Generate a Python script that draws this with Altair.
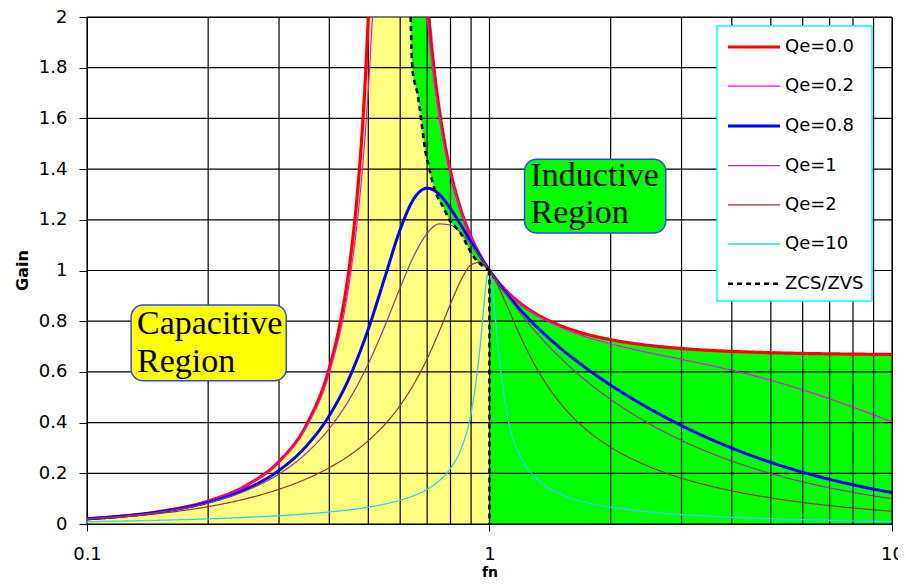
import altair as alt
import pandas as pd

# ---------------- values ----------------
FN_GRID = [0.1, 0.12, 0.15, 0.2, 0.25, 0.3, 0.35, 0.4, 0.45, 0.5,
           0.55, 0.6, 0.65, 0.7, 0.75, 0.8, 0.85, 0.9, 0.95, 0.98,
           1.0, 1.02, 1.05, 1.1, 1.2, 1.3, 1.5, 1.7, 2.0, 2.5,
           3.0, 4.0, 5.0, 6.0, 7.0, 8.0, 9.0, 10.0]

# Qe = 0.0 (two branches, it leaves the chart around the resonance pole)
Q0_LEFT_FN = [0.1, 0.12, 0.15, 0.2, 0.25, 0.3, 0.35, 0.4, 0.42, 0.45, 0.46, 0.47, 0.48, 0.49, 0.5]
Q0_LEFT_G = [0.0206, 0.0301, 0.0483, 0.0909, 0.1538, 0.2466, 0.3874, 0.6154, 0.7494, 1.0318,
             1.1588, 1.3098, 1.4922, 1.7168, 2.0]
Q0_RIGHT_FN = [0.707, 0.72, 0.73, 0.75, 0.76, 0.8, 0.85, 0.9, 0.95, 1.0,
               1.05, 1.1, 1.2, 1.3, 1.5, 1.7, 2.0, 2.5, 3.0,
               4.0, 5.0, 6.0, 7.0, 8.0, 9.0, 10.0]
Q0_RIGHT_G = [2.0, 1.8674, 1.7802, 1.6364, 1.5764, 1.3913, 1.2377, 1.1329, 1.0571, 1.0,
              0.9556, 0.9202, 0.8675, 0.8305, 0.7826, 0.7536, 0.7273, 0.7042, 0.6923,
              0.6809, 0.6757, 0.6729, 0.6712, 0.6702, 0.6694, 0.6689]

# Qe = 0.2
Q02_LEFT_FN = [0.1, 0.12, 0.15, 0.2, 0.25, 0.3, 0.35, 0.4, 0.45, 0.47, 0.48, 0.49, 0.5, 0.512]
Q02_LEFT_G = [0.0206, 0.0301, 0.0482, 0.0906, 0.1528, 0.2439, 0.3802, 0.5958, 0.9691, 1.2014,
              1.3461, 1.5154, 1.715, 2.0]
Q02_RIGHT_FN = [0.699, 0.72, 0.75, 0.8, 0.85, 0.9, 0.95, 1.0, 1.05, 1.1, 1.2, 1.3, 1.5, 1.7,
                2.0, 2.5, 3.0, 4.0, 5.0, 6.0, 7.0, 8.0, 9.0, 10.0]
Q02_RIGHT_G = [2.0, 1.8118, 1.6073, 1.3805, 1.2337, 1.1316, 1.0568, 1.0, 0.9554, 0.9196, 0.8657,
               0.8273, 0.7760, 0.7432, 0.7106, 0.6753, 0.6495, 0.6064, 0.5669, 0.5293, 0.4938,
               0.4609, 0.4307, 0.4031]

# Qe = 0.8, 1, 2 on FN_GRID
Q08_G = [0.0203, 0.0295, 0.0468, 0.0858, 0.1397, 0.2116, 0.3059, 0.4278, 0.5823, 0.7692,
         0.9747, 1.1621, 1.2852, 1.3248, 1.3005, 1.2440, 1.1777, 1.1127, 1.0531, 1.0205,
         1.0, 0.9805, 0.9529, 0.9112, 0.8407, 0.7832, 0.6938, 0.6260, 0.5479, 0.4546,
         0.3882, 0.2994, 0.2430, 0.2042, 0.1759, 0.1545, 0.1376, 0.1241]
Q1_G = [0.0202, 0.0292, 0.0460, 0.0833, 0.1333, 0.1975, 0.2779, 0.3766, 0.4951, 0.6325,
        0.7829, 0.9325, 1.0603, 1.1465, 1.1837, 1.1792, 1.1475, 1.1018, 1.0509, 1.0202,
        1.0, 0.9802, 0.9514, 0.9063, 0.8267, 0.7599, 0.6555, 0.5776, 0.4914, 0.3945,
        0.3297, 0.2483, 0.1991, 0.1661, 0.1425, 0.1248, 0.1109, 0.0999]
Q2_G = [0.0191, 0.0270, 0.0408, 0.0685, 0.1008, 0.1370, 0.1773, 0.2221, 0.2721, 0.3288,
        0.3936, 0.4681, 0.5540, 0.6519, 0.7593, 0.8682, 0.9626, 1.0220, 1.0331, 1.0176,
        1.0, 0.9780, 0.9394, 0.8681, 0.7319, 0.6230, 0.4762, 0.3862, 0.3030, 0.2256,
        0.1810, 0.1308, 0.1030, 0.0850, 0.0725, 0.0632, 0.0561, 0.0504]

# Qe = 10 (sharp around fn = 1)
Q10_FN = [0.1, 0.12, 0.15, 0.2, 0.25, 0.3, 0.35, 0.4, 0.45, 0.5,
          0.55, 0.6, 0.65, 0.7, 0.75, 0.8, 0.85, 0.9, 0.95, 0.97,
          0.98, 0.99, 1.0, 1.01, 1.02, 1.03, 1.05, 1.1, 1.2, 1.3,
          1.5, 1.7, 2.0, 2.5, 3.0, 4.0, 5.0, 6.0, 7.0, 8.0, 9.0, 10.0]
Q10_G = [0.0091, 0.0113, 0.0146, 0.0203, 0.0263, 0.0327, 0.0397, 0.0475, 0.0563, 0.0666,
         0.0788, 0.0937, 0.1125, 0.1370, 0.1705, 0.2194, 0.2973, 0.4370, 0.7164, 0.8739,
         0.9439, 0.9901, 1.0, 0.9715, 0.9144, 0.8428, 0.6988, 0.4552, 0.2602, 0.1837,
         0.1186, 0.0893, 0.0664, 0.0475, 0.0374, 0.0266, 0.0208, 0.0171, 0.0146, 0.0127,
         0.0112, 0.0101]

# ZCS / ZVS boundary (dotted), then the vertical drop at fn = 1
ZVS_FN = [0.637, 0.643, 0.650, 0.662, 0.671, 0.680, 0.697, 0.707, 0.713, 0.734, 0.767, 0.795,
          0.848, 0.907, 1.0, 1.0]
ZVS_G = [2.0, 1.8, 1.75, 1.70, 1.64, 1.567, 1.448, 1.41, 1.384, 1.31, 1.251, 1.2,
         1.147, 1.061, 1.0, 0.0]
# top of the green (inductive) band above the boundary
GREEN_TOP = [2.0, 2.0, 2.0, 2.0, 2.0, 2.0, 2.0, 2.0, 1.936, 1.749, 1.538, 1.411, 1.243, 1.121, 1.0]

SERIES = ["Qe=0.0", "Qe=0.2", "Qe=0.8", "Qe=1", "Qe=2", "Qe=10", "ZCS/ZVS"]
COLORS = ["#FF0000", "#FF00FF", "#0000FF", "#993399", "#993333", "#33CCFF", "#000000"]
WIDTHS = [3.2, 1.2, 3.0, 1.2, 1.2, 1.3, 2.6]
DASHES = [[1, 0], [1, 0], [1, 0], [1, 0], [1, 0], [1, 0], [5, 4]]

X_GRID = [0.1, 0.2, 0.3, 0.4, 0.5, 0.6, 0.7, 0.8, 0.9, 1, 2, 3, 4, 5, 6, 7, 8, 9, 10]
X_LABELS = [0.1, 1, 10]
Y_TICKS = [0, 0.2, 0.4, 0.6, 0.8, 1.0, 1.2, 1.4, 1.6, 1.8, 2.0]

BOX_FN1 = [0.1287, 1.222]
BOX_FN2 = [0.3126, 2.741]
BOX_G1 = [0.864, 1.439]
BOX_G2 = [0.565, 1.148]
BOX_FILL = ["#FFFF00", "#00FF00"]

TEXT_LINES = ["Capacitive", "Region", "Inductive", "Region"]
TEXT_FN = [0.1331, 0.1331, 1.2647, 1.2647]
TEXT_G = [0.7486, 0.6013, 1.334, 1.186]

# ---------------- tables ----------------
rows = []


def add(series, seg, fns, gs):
    for i, (f, g) in enumerate(zip(fns, gs)):
        rows.append({"series": series, "seg": series + "-" + seg, "fn": f, "gain": g, "idx": i})


add("Qe=0.0", "a", Q0_LEFT_FN, Q0_LEFT_G)
add("Qe=0.0", "b", Q0_RIGHT_FN, Q0_RIGHT_G)
add("Qe=0.2", "a", Q02_LEFT_FN, Q02_LEFT_G)
add("Qe=0.2", "b", Q02_RIGHT_FN, Q02_RIGHT_G)
add("Qe=0.8", "a", FN_GRID, Q08_G)
add("Qe=1", "a", FN_GRID, Q1_G)
add("Qe=2", "a", FN_GRID, Q2_G)
add("Qe=10", "a", Q10_FN, Q10_G)
add("ZCS/ZVS", "a", ZVS_FN[:-1], ZVS_G[:-1])
add("ZCS/ZVS", "b", ZVS_FN[-2:], ZVS_G[-2:])
line_df = pd.DataFrame(rows)

yellow_df = pd.DataFrame({
    "fn": Q0_LEFT_FN + [f for f in Q0_RIGHT_FN if f <= 1.0],
    "hi": Q0_LEFT_G + [g for f, g in zip(Q0_RIGHT_FN, Q0_RIGHT_G) if f <= 1.0],
})
green_main_df = pd.DataFrame({
    "fn": [f for f in Q0_RIGHT_FN if f >= 1.0],
    "hi": [g for f, g in zip(Q0_RIGHT_FN, Q0_RIGHT_G) if f >= 1.0],
})
n_top = len(GREEN_TOP)
green_top_df = pd.DataFrame({"fn": ZVS_FN[:n_top], "lo": ZVS_G[:n_top], "hi": GREEN_TOP})
vgrid_df = pd.DataFrame({"v": X_GRID})
hgrid_df = pd.DataFrame({"v": Y_TICKS})
box_df = pd.DataFrame({"x1": BOX_FN1, "x2": BOX_FN2, "y1": BOX_G1, "y2": BOX_G2, "fill": BOX_FILL})
text_df = pd.DataFrame({"t": TEXT_LINES, "fn": TEXT_FN, "g": TEXT_G})

# ---------------- scales / axes ----------------
FONT = "DejaVu Sans"
xscale = alt.Scale(type="log", domain=[0.1, 10], nice=False)
yscale = alt.Scale(domain=[0, 2], nice=False, zero=False)
xaxis = alt.Axis(values=X_LABELS, format="~g", grid=False, tickSize=7, tickColor="black",
                 domainColor="black", labelFont=FONT, labelFontSize=18, labelColor="black",
                 labelPadding=14, labelFlush=False, title="fn", titleFont=FONT,
                 titleFontSize=14, titleFontWeight="bold", titleColor="black",
                 titleY=52, titleBaseline="alphabetic")
yaxis = alt.Axis(values=Y_TICKS, format="~g", grid=False, tickSize=8, tickColor="black",
                 domainColor="black", labelFont=FONT, labelFontSize=18, labelColor="black",
                 labelPadding=12, labelFlush=False, title="Gain", titleFont=FONT,
                 titleFontSize=16, titleFontWeight="bold", titleColor="black",
                 titleX=-60, titleY=253, titleAngle=270, titleBaseline="alphabetic")


def X(field):
    return alt.X(field + ":Q", scale=xscale, axis=xaxis, title="fn")


def Y(field):
    return alt.Y(field + ":Q", scale=yscale, axis=yaxis, title="Gain")


yellow = alt.Chart(yellow_df).mark_area(color="#FFFF80", opacity=1, interpolate="monotone").encode(
    x=X("fn"), y=Y("hi"))
green_main = alt.Chart(green_main_df).mark_area(color="#00FF00", opacity=1, interpolate="monotone").encode(
    x=X("fn"), y=Y("hi"))
green_top = alt.Chart(green_top_df).mark_area(color="#00FF00", opacity=1, interpolate="monotone").encode(
    x=X("fn"), y=Y("lo"), y2="hi:Q")
vgrid = alt.Chart(vgrid_df).mark_rule(color="black", strokeWidth=1.2).encode(x=X("v"))
hgrid = alt.Chart(hgrid_df).mark_rule(color="black", strokeWidth=1.2).encode(y=Y("v"))

legend = alt.Legend(orient="none", legendX=630, legendY=9, title=None, fillColor="white",
                    strokeColor="#00FFFF", padding=8, symbolType="M-2.364,0H2.364",
                    symbolSize=484, symbolOffset=16, labelOffset=18, rowPadding=18.2,
                    labelFont=FONT, labelFontSize=18, labelColor="black")

lines = alt.Chart(line_df).mark_line(clip=True, strokeJoin="round", interpolate="monotone").encode(
    x=X("fn"),
    y=Y("gain"),
    color=alt.Color("series:N", scale=alt.Scale(domain=SERIES, range=COLORS), legend=legend, title=None),
    strokeWidth=alt.StrokeWidth("series:N", scale=alt.Scale(type="ordinal", domain=SERIES, range=WIDTHS),
                                legend=legend, title=None),
    strokeDash=alt.StrokeDash("series:N", scale=alt.Scale(domain=SERIES, range=DASHES), legend=legend, title=None),
    detail="seg:N",
    order="idx:Q",
)

boxes = alt.Chart(box_df).mark_rect(cornerRadius=12, stroke="#3344FF", strokeWidth=1.5).encode(
    x=X("x1"), x2="x2:Q", y=Y("y1"), y2="y2:Q", fill=alt.Fill("fill:N", scale=None))
texts = alt.Chart(text_df).mark_text(align="left", baseline="alphabetic", font="Liberation Serif",
                                     fontSize=34, color="black").encode(x=X("fn"), y=Y("g"), text="t:N")

chart = alt.layer(yellow, green_main, green_top, vgrid, hgrid, lines, boxes, texts).properties(
    width=805, height=507,
    padding={"left": 79, "top": 9, "right": 6, "bottom": 53},
    autosize=alt.AutoSizeParams(type="none"),
    background="white",
).configure_view(stroke="black", strokeWidth=1).configure_legend(strokeWidth=1.5)

chart.save("out.html", embed_options={"renderer": "svg", "actions": False})
